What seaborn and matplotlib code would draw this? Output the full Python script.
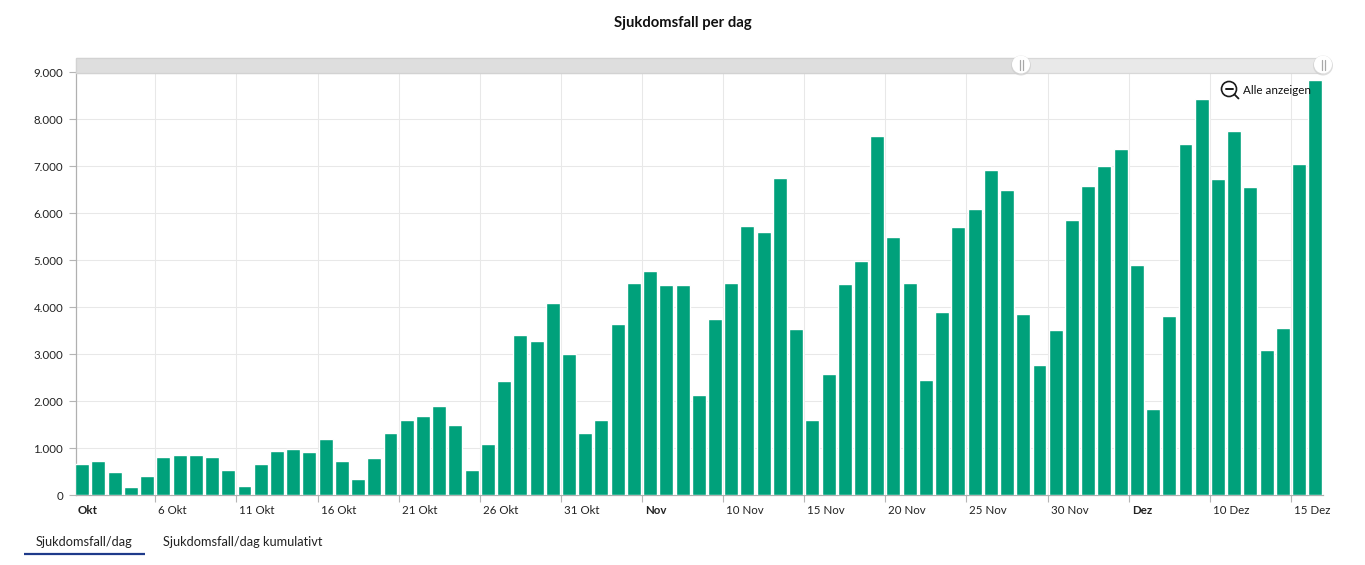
import pandas as pd
import matplotlib
matplotlib.use("Agg")
import matplotlib.pyplot as plt
from matplotlib.patches import Rectangle, Circle
import seaborn as sns

# values per day, 1 Okt - 16 Dez
okt = [670, 730, 500, 180, 410, 820, 860, 860, 820, 540, 200, 670, 940, 990, 920, 1200,
       730, 350, 800, 1330, 1600, 1690, 1900, 1500, 540, 1090, 2440, 3410, 3280, 4090, 3010]
nov = [1330, 1600, 3640, 4520, 4770, 4470, 4470, 2130, 3750, 4520, 5730, 5600, 6750, 3530, 1600,
       2580, 4500, 4980, 7640, 5500, 4520, 2450, 3900, 5710, 6090, 6920, 6490, 3850, 2770, 3520]
dez = [5850, 6580, 7010, 7370, 4900, 1830, 3820, 7470, 8440, 6720, 7750, 6560, 3090, 3560, 7050, 8830]

x_labels = ["Okt", "6 Okt", "11 Okt", "16 Okt", "21 Okt", "26 Okt", "31 Okt", "Nov", "10 Nov",
            "15 Nov", "20 Nov", "25 Nov", "30 Nov", "Dez", "10 Dez", "15 Dez"]
y_values = [0, 1000, 2000, 3000, 4000, 5000, 6000, 7000, 8000, 9000]
y_labels = ["0", "1.000", "2.000", "3.000", "4.000", "5.000", "6.000", "7.000", "8.000", "9.000"]
tabs = ["Sjukdomsfall/dag", "Sjukdomsfall/dag kumulativt"]

W, H = 1365, 565
left, right, top, bottom = 75.6, 1323.4, 72.2, 495.2

sns.set_theme(style="white")
plt.rcParams["font.family"] = ["Lato", "DejaVu Sans"]

values = okt + nov + dez
df = pd.DataFrame({"day": range(len(values)), "cases": values})

fig = plt.figure(figsize=(W / 100, H / 100), dpi=100)
ax = fig.add_axes([left / W, 1 - bottom / H, (right - left) / W, (bottom - top) / H])

sns.barplot(data=df, x="day", y="cases", color="#00a17b", saturation=1, width=0.86, ax=ax, zorder=3)

# first bar is cut off by the axis, like in the original
ax.set_xlim(-0.41, len(values) - 0.5)
ax.set_ylim(0, 9000)
ax.set_xlabel("")
ax.set_ylabel("")

ax.set_xticks([i * 5 - 0.5 for i in range(1, len(x_labels))])
ax.set_xticklabels([])
ax.set_yticks(y_values)
ax.set_yticklabels(y_labels, fontsize=8.3, color="#222222")
ax.grid(True, color="#e8e8e8", linewidth=0.75)
ax.set_axisbelow(True)
ax.tick_params(axis="x", bottom=True, length=5, width=0.8, color="#b5b5b5")
ax.tick_params(axis="y", left=True, length=5, width=0.8, color="#b5b5b5", pad=4)

for side in ["top", "right"]:
    ax.spines[side].set_visible(False)
for side in ["left", "bottom"]:
    ax.spines[side].set_color("#b0b0b0")
    ax.spines[side].set_linewidth(0.9)

for i, label in enumerate(x_labels):
    bold = label in ["Okt", "Nov", "Dez"]
    ax.annotate(label, xy=(i * 5 - 0.5, 0), xycoords=("data", "axes fraction"),
                xytext=(3 if i else 3.5, -10), textcoords="offset pixels", ha="left", va="top",
                fontsize=8.3, color="#222222", fontweight="bold" if bold else "normal")

# overlay in pixel coords for the title, scrollbar, zoom button and tabs
over = fig.add_axes([0, 0, 1, 1], zorder=5)
over.set_xlim(0, W)
over.set_ylim(H, 0)
over.axis("off")
over.patch.set_alpha(0)

over.text(683, 22.5, "Sjukdomsfall per dag", ha="center", va="center", fontsize=10.7,
          fontweight="bold", color="#111111")

over.add_patch(Rectangle((76, 57.5), 1247, 15, fc="#e9e9e9", ec="#d8d8d8", lw=0.9))
over.add_patch(Rectangle((76, 57.5), 945, 15, fc="#dedede", ec="#d2d2d2", lw=0.9))
for hx in [1021, 1323]:
    over.add_patch(Circle((hx, 65.5), 10, fc="#cfcfcf", ec="none", alpha=0.7))
    over.add_patch(Circle((hx, 64.5), 9, fc="white", ec="none"))
    over.plot([hx - 1.5, hx - 1.5], [60, 69.5], color="#a8a8a8", lw=0.9)
    over.plot([hx + 1.5, hx + 1.5], [60, 69.5], color="#a8a8a8", lw=0.9)

over.add_patch(Circle((1229, 89), 7.5, fc="white", ec="#1a1a1a", lw=1.2))
over.plot([1225.5, 1232.5], [89, 89], color="#1a1a1a", lw=1.4)
over.plot([1234.5, 1238.5], [94.5, 98.5], color="#1a1a1a", lw=1.3)
over.text(1243, 90, "Alle anzeigen", ha="left", va="center", fontsize=8.4, color="#111111")

over.text(36, 541.5, tabs[0], ha="left", va="center", fontsize=9.15, color="#222222")
over.text(163, 541.5, tabs[1], ha="left", va="center", fontsize=9.15, color="#222222")
over.plot([23.5, 145], [553.5, 553.5], color="#1e3a8a", lw=1.6, solid_capstyle="butt")

fig.savefig("out.png", dpi=100, facecolor="white")
